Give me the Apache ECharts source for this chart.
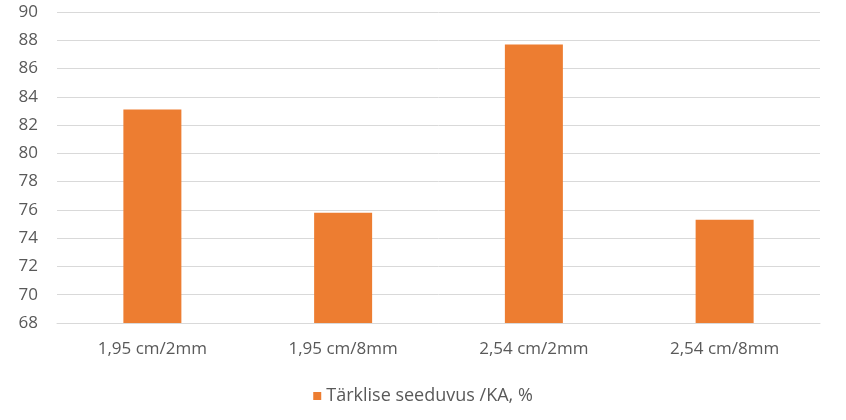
<!DOCTYPE html>
<html><head><meta charset="utf-8">
<script src="https://cdn.jsdelivr.net/npm/echarts@6/dist/echarts.min.js"></script>
<style>html,body{margin:0;padding:0;background:#fff}#c{width:846px;height:420px}</style>
</head><body><div id="c"></div>
<script>
var categories = ["1,95 cm/2mm", "1,95 cm/8mm", "2,54 cm/2mm", "2,54 cm/8mm"];
var values = [83.1, 75.8, 87.7, 75.3];
var seriesName = "Tärklise seeduvus /KA, %";
var yMin = 68, yMax = 90, yStep = 2;

var chart = echarts.init(document.getElementById('c'), null, {renderer: 'canvas'});
var font = '"Open Sans", Lato, sans-serif';
chart.setOption({
  animation: false,
  grid: {left: 57, right: 26, top: 12, bottom: 97, containLabel: false},
  legend: {
    data: [seriesName], bottom: 10, left: 'center',
    icon: 'rect', itemWidth: 8, itemHeight: 8, itemGap: 8,
    textStyle: {color: '#595959', fontSize: 18, fontFamily: font}
  },
  xAxis: {
    type: 'category', data: categories,
    axisLine: {show: true, lineStyle: {color: '#d9d9d9', width: 1}},
    axisTick: {show: false},
    axisLabel: {color: '#595959', fontSize: 17, fontFamily: font, margin: 18}
  },
  yAxis: {
    type: 'value', min: yMin, max: yMax, interval: yStep,
    axisLine: {show: false}, axisTick: {show: false},
    splitLine: {lineStyle: {color: '#d9d9d9', width: 1}},
    axisLabel: {color: '#595959', fontSize: 17, fontFamily: font, margin: 19}
  },
  series: [{
    name: seriesName, type: 'bar', data: values, barWidth: 58,
    itemStyle: {color: '#ED7D31'}
  }]
});
</script></body></html>
